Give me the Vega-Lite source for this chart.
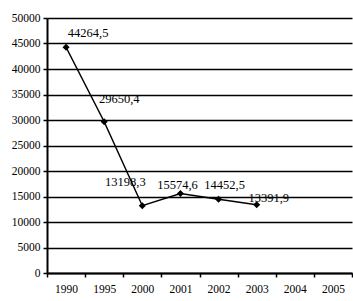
{
  "$schema": "https://vega.github.io/schema/vega-lite/v6.json",
  "autosize": {"type": "none"},
  "padding": {"left": 47, "top": 18, "right": 1, "bottom": 28},
  "width": 305,
  "height": 255,
  "background": "white",
  "data": {"values": [
    {"year": "1990", "value": 44264.5, "label": "44264,5"},
    {"year": "1995", "value": 29650.4, "label": "29650,4"},
    {"year": "2000", "value": 13198.3, "label": "13198,3"},
    {"year": "2001", "value": 15574.6, "label": "15574,6"},
    {"year": "2002", "value": 14452.5, "label": "14452,5"},
    {"year": "2003", "value": 13391.9, "label": "13391,9"}
  ]},
  "config": {
    "view": {"stroke": null},
    "font": "Liberation Serif",
    "text": {"font": "Liberation Serif", "fontSize": 12.5, "color": "black", "align": "center", "baseline": "middle"}
  },
  "encoding": {
    "x": {
      "field": "year", "type": "ordinal",
      "scale": {"domain": ["1990","1995","2000","2001","2002","2003","2004","2005"], "paddingInner": 0, "paddingOuter": 0},
      "axis": {"title": null, "labelAngle": 0, "tickBand": "extent", "domainColor": "black", "domainWidth": 2, "tickColor": "black", "tickWidth": 1.5, "tickSize": 4, "labelFont": "Liberation Serif", "labelFontSize": 11.5, "labelColor": "black", "labelPadding": 6, "grid": false}
    },
    "y": {
      "field": "value", "type": "quantitative",
      "scale": {"domain": [0, 50000], "nice": false},
      "axis": {"title": null, "values": [0,5000,10000,15000,20000,25000,30000,35000,40000,45000,50000], "format": "d", "domainColor": "black", "domainWidth": 2, "tickColor": "black", "tickWidth": 1.5, "tickSize": 4, "labelFont": "Liberation Serif", "labelFontSize": 11.5, "labelColor": "black", "labelPadding": 3, "grid": true, "gridColor": "black", "gridWidth": 1.5, "gridOpacity": 1}
    }
  },
  "layer": [
    {"mark": {"type": "line", "color": "black", "strokeWidth": 1.5}},
    {"mark": {"type": "point", "shape": "diamond", "filled": true, "color": "black", "size": 50, "opacity": 1}},
    {"transform": [{"filter": "datum.year == '1990'"}], "mark": {"type": "text", "dx": 22, "dy": -14}, "encoding": {"text": {"field": "label"}}},
    {"transform": [{"filter": "datum.year == '1995'"}], "mark": {"type": "text", "dx": 15, "dy": -23}, "encoding": {"text": {"field": "label"}}},
    {"transform": [{"filter": "datum.year == '2000'"}], "mark": {"type": "text", "dx": -17, "dy": -24}, "encoding": {"text": {"field": "label"}}},
    {"transform": [{"filter": "datum.year == '2001'"}], "mark": {"type": "text", "dx": -3, "dy": -9}, "encoding": {"text": {"field": "label"}}},
    {"transform": [{"filter": "datum.year == '2002'"}], "mark": {"type": "text", "dx": 6, "dy": -14}, "encoding": {"text": {"field": "label"}}},
    {"transform": [{"filter": "datum.year == '2003'"}], "mark": {"type": "text", "dx": 12, "dy": -7}, "encoding": {"text": {"field": "label"}}}
  ]
}
